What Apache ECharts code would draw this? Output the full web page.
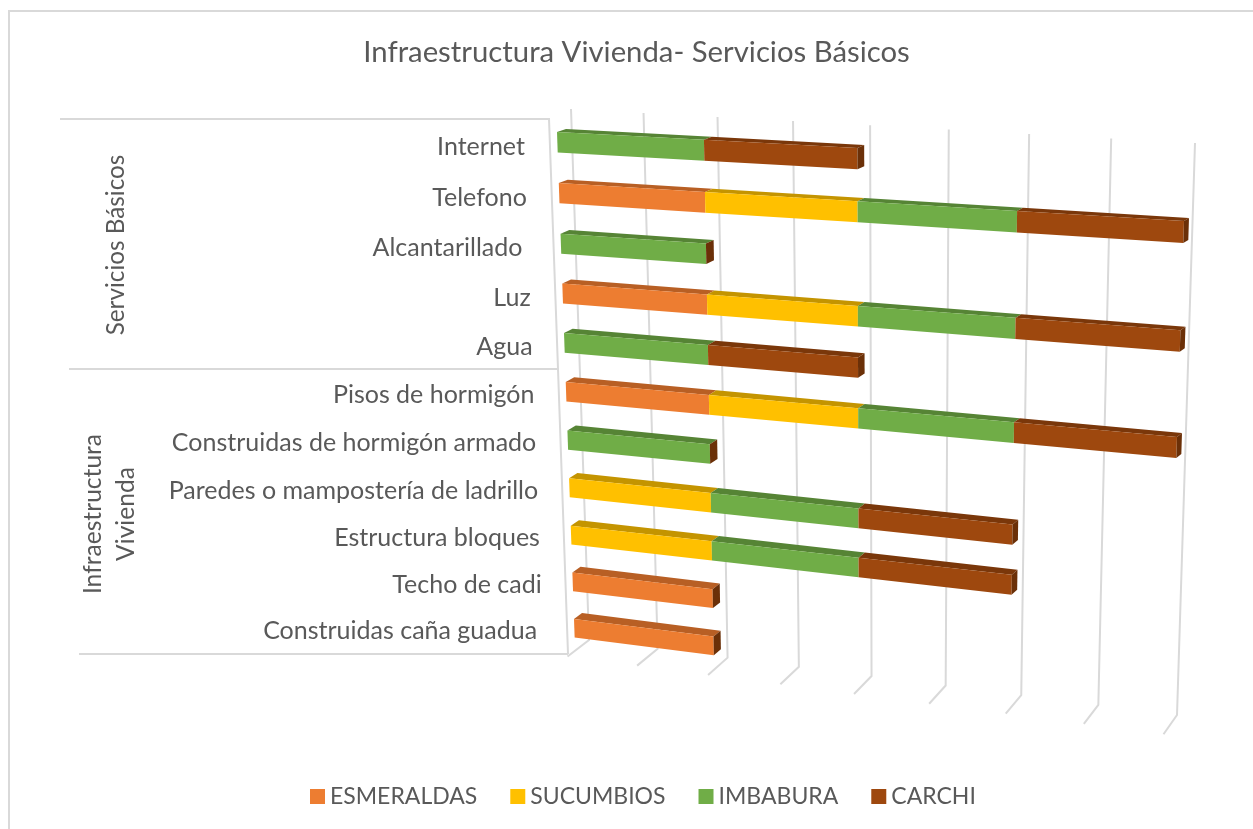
<!DOCTYPE html>
<html>
<head>
<meta charset="utf-8">
<title>Infraestructura Vivienda- Servicios Básicos</title>
<style>
  html, body { margin: 0; padding: 0; background: #fff; }
  #first { width: 1253px; height: 829px; }
</style>
<script src="https://cdn.jsdelivr.net/npm/echarts@6/dist/echarts.min.js"></script>
</head>
<body>
<div id="first"></div>
<script>
// datos (las etiquetas con espacio final lo llevan en el original)
var categories = ['Internet', 'Telefono', 'Alcantarillado ', 'Luz', 'Agua', 'Pisos de hormigón',
  'Construidas de hormigón armado', 'Paredes o mampostería de ladrillo', 'Estructura bloques',
  'Techo de cadi', 'Construidas caña guadua '];
var esmeraldas = [0, 1, 0, 1, 0, 1, 0, 0, 0, 1, 1];
var sucumbios  = [0, 1, 0, 1, 0, 1, 0, 1, 1, 0, 0];
var imbabura   = [1, 1, 1, 1, 1, 1, 1, 1, 1, 0, 0];
var carchi     = [1, 1, 0, 1, 1, 1, 0, 1, 1, 0, 0];
var seriesNames = ['ESMERALDAS', 'SUCUMBIOS', 'IMBABURA', 'CARCHI'];
var valueTicks = [0, 0.5, 1, 1.5, 2, 2.5, 3, 3.5, 4];
var titleText = 'Infraestructura Vivienda- Servicios Básicos';

var frontColors = ['#ED7D31', '#FFC000', '#70AD47', '#9E480E'];
var topColors = ['#B85F24', '#C49400', '#568435', '#7A370A'];
var sideColor = '#6B3008';
var lineColor = '#D9D9D9';
var textColor = '#595959';
var fontName = 'Lato';

// rejilla plana oculta: las escalas de ECharts dan el pixel plano y luego se proyecta
var gridBox = { left: 100, top: 100, width: 400, height: 550 };
var unit = gridBox.width / 4;
var band = gridBox.height / categories.length;
var barShare = 0.4;

function flat(u, r) {
  return [gridBox.left + u * unit, gridBox.top + r * band];
}

// homografia a partir de 4 pares de puntos
function homography(src, dst) {
  var m = [];
  for (var i = 0; i < 4; i++) {
    var x = src[i][0], y = src[i][1], X = dst[i][0], Y = dst[i][1];
    m.push([x, y, 1, 0, 0, 0, -x * X, -y * X, X]);
    m.push([0, 0, 0, x, y, 1, -x * Y, -y * Y, Y]);
  }
  for (var c = 0; c < 8; c++) {
    var p = c;
    for (var k = c + 1; k < 8; k++) {
      if (Math.abs(m[k][c]) > Math.abs(m[p][c])) p = k;
    }
    var tmp = m[c]; m[c] = m[p]; m[p] = tmp;
    for (var j = 0; j < 8; j++) {
      if (j === c) continue;
      var f = m[j][c] / m[c][c];
      for (var n = c; n < 9; n++) m[j][n] -= f * m[c][n];
    }
  }
  var h = [];
  for (var q = 0; q < 8; q++) h.push(m[q][8] / m[q][q]);
  return function (pt) {
    var w = h[6] * pt[0] + h[7] * pt[1] + 1;
    return [(h[0] * pt[0] + h[1] * pt[1] + h[2]) / w, (h[3] * pt[0] + h[4] * pt[1] + h[5]) / w];
  };
}

var barAnchors = [flat(0, 0), flat(0, 10), flat(4, 1), flat(4, 5)];
var barFront = homography(barAnchors, [[557, 132], [574, 619], [1184, 221], [1177, 437]]);
var barBack = homography(barAnchors, [[566, 129], [582, 613], [1189, 218], [1182, 433]]);
var wallAnchors = [flat(0, 0), flat(4, 0), flat(4, 11), flat(0, 11)];
var backWall = homography(wallAnchors, [[571, 109], [1195, 143], [1177, 715], [589, 640]]);

function renderGridLine(params, api) {
  var v = api.value(0);
  var x = api.coord([v, 0])[0];
  var sys = params.coordSys;
  var top = backWall([x, sys.y]);
  var bottom = backWall([x, sys.y + sys.height]);
  // tramo del piso hacia el frente
  var stub = [bottom[0] - 21.5 + 2 * v, bottom[1] + 16.5 + 0.7 * v];
  return {
    type: 'polyline',
    shape: { points: [top, bottom, stub] },
    style: { stroke: lineColor, lineWidth: 2, fill: null }
  };
}

function renderSegment(params, api) {
  var s = params.seriesIndex - 1;
  var a = api.coord([api.value(0), api.value(2)]);
  var b = api.coord([api.value(1), api.value(2)]);
  var size = api.size([0, 1])[1];
  var y0 = a[1] - size / 2;
  var y1 = y0 + size * barShare;
  var kids = [];
  if (b[0] > a[0]) {
    kids.push({
      type: 'polygon',
      shape: { points: [barFront([a[0], y0]), barFront([b[0], y0]), barBack([b[0], y0]), barBack([a[0], y0])] },
      style: { fill: topColors[s] }
    });
    kids.push({
      type: 'polygon',
      shape: { points: [barFront([a[0], y0]), barFront([b[0], y0]), barFront([b[0], y1]), barFront([a[0], y1])] },
      style: { fill: frontColors[s] }
    });
  }
  // Excel dibuja la cara final con la ultima serie aunque valga 0
  if (s === seriesNames.length - 1) {
    kids.push({
      type: 'polygon',
      shape: { points: [barFront([b[0], y0]), barBack([b[0], y0]), barBack([b[0], y1]), barFront([b[0], y1])] },
      style: { fill: sideColor }
    });
  }
  return { type: 'group', children: kids };
}

function renderLabel(params, api) {
  var a = api.coord([0, api.value(0)]);
  var size = api.size([0, 1])[1];
  var pos = barFront([a[0] - 22.7, a[1] - size / 2 + size * 0.2]);
  return {
    type: 'text',
    style: {
      text: categories[api.value(0)],
      x: pos[0],
      y: pos[1] + 6.5,
      align: 'right',
      verticalAlign: 'middle',
      fill: textColor,
      font: '25px ' + fontName
    }
  };
}

var allValues = [esmeraldas, sucumbios, imbabura, carchi];
var running = categories.map(function () { return 0; });
var segmentSeries = seriesNames.map(function (name, s) {
  var rows = [];
  allValues[s].forEach(function (v, i) {
    // la ultima serie se conserva con valor 0 para la cara final
    if (v > 0 || s === seriesNames.length - 1) rows.push([running[i], running[i] + v, i]);
    running[i] += v;
  });
  return {
    name: name,
    type: 'custom',
    renderItem: renderSegment,
    itemStyle: { color: frontColors[s] },
    encode: { x: [0, 1], y: 2 },
    data: rows,
    silent: true
  };
});

var firstChart = echarts.init(document.getElementById('first'));
firstChart.setOption({
  backgroundColor: '#FFFFFF',
  animation: false,
  title: {
    text: titleText,
    left: 631.5,
    top: 33,
    textAlign: 'center',
    textStyle: { color: textColor, fontFamily: fontName, fontSize: 29.3, fontWeight: 'normal' }
  },
  legend: {
    data: seriesNames,
    left: 305,
    top: 780,
    icon: 'rect',
    itemWidth: 15,
    itemHeight: 15,
    itemGap: 33,
    selectedMode: false,
    textStyle: { color: textColor, fontFamily: fontName, fontSize: 23 }
  },
  grid: gridBox,
  xAxis: { type: 'value', min: 0, max: 4, show: false },
  yAxis: { type: 'category', data: categories, inverse: true, show: false },
  series: [{
    type: 'custom',
    renderItem: renderGridLine,
    encode: { x: 0 },
    data: valueTicks.map(function (v) { return [v]; }),
    silent: true
  }].concat(segmentSeries).concat([{
    type: 'custom',
    renderItem: renderLabel,
    encode: { y: 0 },
    data: categories.map(function (c, i) { return [i]; }),
    silent: true
  }]),
  graphic: [
    { type: 'polyline', shape: { points: [[1253, 11], [9, 11], [9, 829]] }, style: { stroke: lineColor, lineWidth: 2, fill: null } },
    { type: 'polyline', shape: { points: [[60, 119], [549, 119], [558, 369], [568, 654]] }, style: { stroke: lineColor, lineWidth: 2, fill: null } },
    { type: 'line', shape: { x1: 69, y1: 369, x2: 558, y2: 369 }, style: { stroke: lineColor, lineWidth: 2 } },
    { type: 'line', shape: { x1: 79, y1: 654, x2: 568, y2: 654 }, style: { stroke: lineColor, lineWidth: 2 } },
    { type: 'text', x: 116, y: 245, rotation: Math.PI / 2, style: { text: 'Servicios Básicos', align: 'center', verticalAlign: 'middle', fill: textColor, font: '24.3px ' + fontName } },
    { type: 'text', x: 93, y: 514, rotation: Math.PI / 2, style: { text: 'Infraestructura', align: 'center', verticalAlign: 'middle', fill: textColor, font: '24.6px ' + fontName } },
    { type: 'text', x: 126, y: 514, rotation: Math.PI / 2, style: { text: 'Vivienda', align: 'center', verticalAlign: 'middle', fill: textColor, font: '24.6px ' + fontName } }
  ]
});
</script>
</body>
</html>
